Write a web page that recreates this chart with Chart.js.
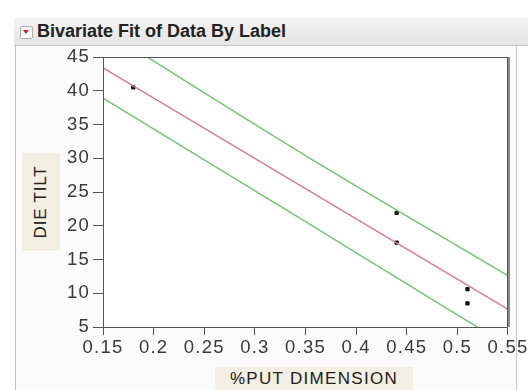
<!DOCTYPE html>
<html lang="en">
<head>
<meta charset="UTF-8">
<title>Bivariate Fit of Data By Label</title>
<script src="https://cdn.jsdelivr.net/npm/chart.js"></script>
<style>
    body {
        margin: 0;
        background: #fff;
        font-family: 'Liberation Sans', Arial, sans-serif;
    }
    #wrap {
        position: relative;
        width: 528px;
        height: 390px;
        overflow: hidden;
    }
    #titlebar {
        position: absolute;
        left: 14px; top: 18px;
        width: 514px; height: 27px;
        background: linear-gradient(#f4f4f4, #e4e4e4);
        border-bottom: 1px solid #c8c8c8;
    }
    #titlebar .icon {
        position: absolute;
        left: 6px; top: 8px;
        width: 11px; height: 11px;
        border: 1px solid #b0b0b0;
        border-radius: 2px;
        background: #fff;
    }
    #titlebar .icon:after {
        content: '';
        position: absolute;
        left: 2px; top: 3px;
        border-left: 3.5px solid transparent;
        border-right: 3.5px solid transparent;
        border-top: 4px solid #d0202a;
    }
    #titlebar span {
        position: absolute;
        left: 23px; top: 3px;
        font-size: 18px;
        font-weight: bold;
        color: #222;
    }
    #panel {
        position: absolute;
        left: 15px; top: 46px;
        width: 500px; height: 344px;
        border-left: 1px solid #c0c0c0;
        border-right: 1px solid #c8c8c8;
        background: #fbfbfb;
    }
    .axlabel {
        position: absolute;
        background: #f3efe2;
        color: #222;
        font-size: 17px;
        letter-spacing: 0.8px;
        text-align: center;
    }
    #ylab {
        left: 22px; top: 153px;
        width: 38px; height: 98px;
    }
    #ylab span {
        position: absolute;
        left: 50%; top: 50%;
        transform: translate(-50%, -50%) rotate(-90deg);
        white-space: nowrap;
    }
    #xlab {
        left: 215px; top: 367px;
        width: 198px; height: 23px;
        line-height: 23px;
        letter-spacing: 1.3px;
    }
    canvas {
        position: absolute;
        left: 0; top: 0;
    }
</style>
</head>
<body>
<div id="wrap">
    <div id="titlebar"><div class="icon"></div><span>Bivariate Fit of Data By Label</span></div>
    <div id="panel"></div>
    <div class="axlabel" id="ylab"><span>DIE TILT</span></div>
    <div class="axlabel" id="xlab">%PUT DIMENSION</div>
    <canvas id="fit" width="528" height="390"></canvas>
</div>
<script>
    // observed points
    const putDimension = [0.18, 0.44, 0.44, 0.51, 0.51];
    const dieTilt = [40.5, 21.9, 17.5, 10.6, 8.5];

    // linear fit and the band around it
    const fitX = [0.15, 0.55];
    const fitY = [43.4, 7.6];
    const bandX = [0.15, 0.35, 0.55];
    const upperY = [49.1, 30.4, 12.6];
    const lowerY = [38.9, 20.6, 2.2];

    const xTicks = [0.15, 0.2, 0.25, 0.3, 0.35, 0.4, 0.45, 0.5, 0.55];
    const yTicks = [5, 10, 15, 20, 25, 30, 35, 40, 45];

    function pairs(xs, ys) {
        return xs.map((x, i) => ({ x: x, y: ys[i] }));
    }

    const frame = {
        id: 'frame',
        beforeDraw(chart) {
            chart.ctx.letterSpacing = '1.2px';
        },
        beforeDatasetsDraw(chart) {
            const a = chart.chartArea;
            const c = chart.ctx;
            c.save();
            c.fillStyle = '#ffffff';
            c.fillRect(a.left, a.top, a.right - a.left, a.bottom - a.top);
            c.restore();
        },
        afterDraw(chart) {
            const a = chart.chartArea;
            const c = chart.ctx;
            c.save();
            c.strokeStyle = '#555';
            c.lineWidth = 1;
            c.strokeRect(a.left + 0.5, a.top + 0.5, a.right - a.left - 1, a.bottom - a.top);
            c.strokeStyle = '#8a8a8a';
            c.lineWidth = 2;
            c.beginPath();
            c.moveTo(a.right + 1, a.top);
            c.lineTo(a.right + 1, a.bottom);
            c.stroke();
            c.restore();
        }
    };

    const tickFont = { family: "'Liberation Sans', Arial, sans-serif", size: 18.5 };

    new Chart(document.getElementById('fit'), {
        type: 'scatter',
        data: {
            datasets: [
                {
                    type: 'line',
                    data: pairs(fitX, fitY),
                    borderColor: '#d4808f',
                    borderWidth: 1.5,
                    pointRadius: 0,
                    fill: false
                },
                {
                    type: 'line',
                    data: pairs(bandX, upperY),
                    borderColor: '#78c278',
                    borderWidth: 1.5,
                    pointRadius: 0,
                    tension: 0.3,
                    fill: false
                },
                {
                    type: 'line',
                    data: pairs(bandX, lowerY),
                    borderColor: '#78c278',
                    borderWidth: 1.5,
                    pointRadius: 0,
                    tension: 0.3,
                    fill: false
                },
                {
                    data: pairs(putDimension, dieTilt),
                    backgroundColor: '#111',
                    borderColor: '#111',
                    pointStyle: 'rect',
                    pointRadius: 2.3
                }
            ]
        },
        options: {
            responsive: false,
            animation: false,
            clip: 0,
            layout: { padding: { left: 0, top: 57, right: 20, bottom: 0 } },
            plugins: { legend: { display: false }, tooltip: { enabled: false } },
            scales: {
                x: {
                    type: 'linear',
                    min: 0.15,
                    max: 0.55,
                    afterBuildTicks: s => { s.ticks = xTicks.map(v => ({ value: v })); },
                    afterFit: s => { s.height = 63; },
                    ticks: {
                        font: tickFont,
                        color: '#3a3a3a',
                        padding: 2,
                        maxRotation: 0,
                        autoSkip: false,
                        callback: v => String(v)
                    },
                    grid: { drawOnChartArea: false, tickLength: 8, color: '#555' },
                    border: { display: false }
                },
                y: {
                    type: 'linear',
                    min: 5,
                    max: 45,
                    afterBuildTicks: s => { s.ticks = yTicks.map(v => ({ value: v })); },
                    afterFit: s => { s.width = 103; },
                    ticks: { font: tickFont, color: '#3a3a3a', padding: 3, autoSkip: false },
                    grid: { drawOnChartArea: false, tickLength: 10, color: '#555' },
                    border: { display: false }
                }
            }
        },
        plugins: [frame]
    });
</script>
</body>
</html>
